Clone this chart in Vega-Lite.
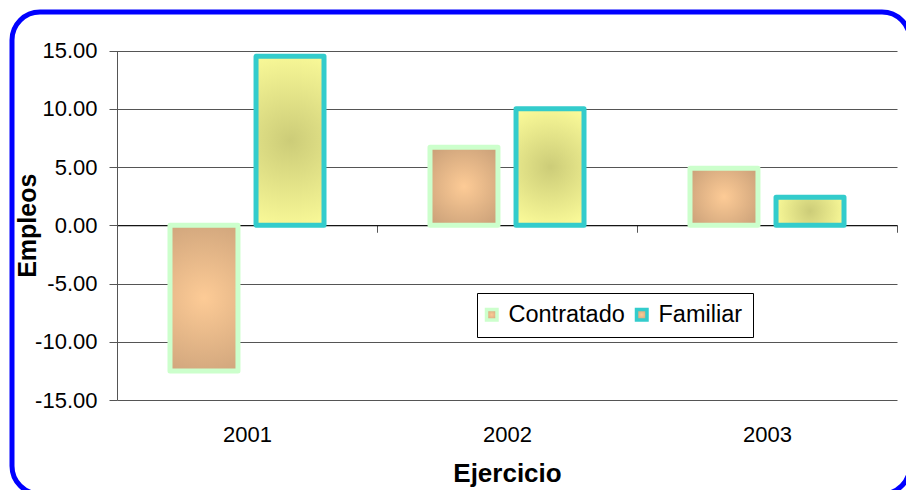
{
  "$schema": "https://vega.github.io/schema/vega-lite/v6.json",
  "width": 898,
  "height": 482,
  "autosize": "none",
  "padding": {"left": 12, "top": 12, "right": -4, "bottom": -4},
  "background": "white",
  "data": {
    "values": [
      {"year": "2001", "series": "Contratado", "value": -12.5},
      {"year": "2001", "series": "Familiar", "value": 14.5},
      {"year": "2002", "series": "Contratado", "value": 6.7},
      {"year": "2002", "series": "Familiar", "value": 10.0},
      {"year": "2003", "series": "Contratado", "value": 4.9},
      {"year": "2003", "series": "Familiar", "value": 2.4}
    ]
  },
  "encoding": {
    "x": {
      "field": "year",
      "type": "nominal",
      "scale": {"range": [105, 885], "paddingInner": 0, "paddingOuter": 0},
      "axis": {
        "orient": "bottom",
        "offset": -268.75,
        "grid": false,
        "domainColor": "black",
        "domainWidth": 1,
        "tickBand": "extent",
        "tickSize": 7,
        "tickColor": "#555555",
        "labelAngle": 0,
        "labelFontSize": 22,
        "labelColor": "black",
        "labelPadding": 192,
        "title": "Ejercicio",
        "titleFontSize": 26,
        "titleFontWeight": "bold",
        "titleColor": "black",
        "titleY": 256,
        "titleBaseline": "alphabetic"
      }
    },
    "xOffset": {
      "field": "series",
      "type": "nominal",
      "scale": {"domain": ["Contratado", "Familiar"], "paddingInner": 0.21, "paddingOuter": 0.616}
    },
    "y": {
      "field": "value",
      "type": "quantitative",
      "scale": {"domain": [-15, 15], "range": [388, 38.5], "nice": false, "zero": false},
      "axis": {
        "values": [-15, -10, -5, 0, 5, 10, 15],
        "offset": -105,
        "grid": true,
        "gridColor": "#555555",
        "gridWidth": 1,
        "domainColor": "#555555",
        "tickColor": "#555555",
        "tickSize": 8,
        "labelExpr": "(datum.value < 0 ? '-' : '') + format(abs(datum.value), '.2f')",
        "labelFontSize": 22,
        "labelColor": "black",
        "labelPadding": 12,
        "title": "Empleos",
        "titleFontSize": 25,
        "titleFontWeight": "bold",
        "titleColor": "black",
        "titleX": -82,
        "titleBaseline": "alphabetic"
      }
    },
    "stroke": {
      "field": "series",
      "type": "nominal",
      "scale": {"domain": ["Contratado", "Familiar"], "range": ["#ccffcc", "#33cccc"]},
      "legend": {
        "orient": "none",
        "legendX": 465,
        "legendY": 281,
        "direction": "horizontal",
        "title": null,
        "labelFontSize": 23.5,
        "labelColor": "black",
        "symbolType": "square",
        "symbolSize": 110,
        "symbolStrokeWidth": 3.5,
        "symbolOffset": -7,
        "padding": 10,
        "strokeColor": "black",
        "fillColor": "white",
        "columnPadding": 4,
        "labelOffset": 5,
        "encode": {
          "symbols": {
            "update": {
              "fill": {"signal": "datum.value === 'Contratado' ? '#ebb98c' : '#d9d889'"},
              "fillOpacity": {"value": 1},
              "opacity": {"value": 1}
            }
          }
        }
      }
    }
  },
  "layer": [
    {
      "transform": [{"filter": "datum.series === 'Contratado'"}],
      "mark": {
        "type": "bar",
        "strokeWidth": 5,
        "strokeJoin": "round",
        "fill": {
          "gradient": "radial",
          "x1": 0.5, "y1": 0.5, "r1": 0,
          "x2": 0.5, "y2": 0.5, "r2": 0.6,
          "stops": [
            {"offset": 0, "color": "#fdcb96"},
            {"offset": 1, "color": "#cca27a"}
          ]
        }
      }
    },
    {
      "transform": [{"filter": "datum.series === 'Familiar'"}],
      "mark": {
        "type": "bar",
        "strokeWidth": 5,
        "strokeJoin": "round",
        "fill": {
          "gradient": "radial",
          "x1": 0.5, "y1": 0.5, "r1": 0,
          "x2": 0.5, "y2": 0.5, "r2": 0.55,
          "stops": [
            {"offset": 0, "color": "#cccc78"},
            {"offset": 1, "color": "#fbfb99"}
          ]
        }
      }
    }
  ],
  "config": {
    "font": "Liberation Sans",
    "view": {"stroke": "#0000ff", "strokeWidth": 5, "cornerRadius": 28, "fill": "white"}
  }
}
